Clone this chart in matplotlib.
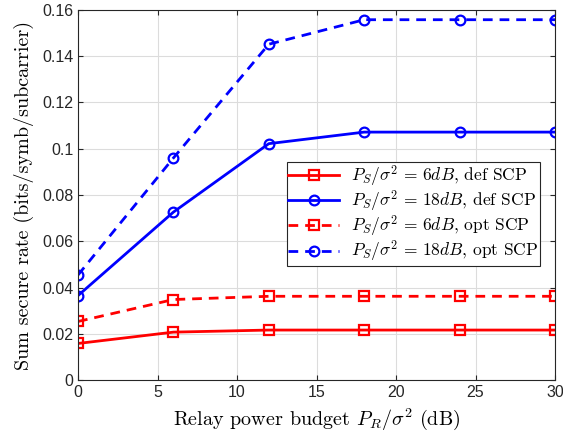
import matplotlib
matplotlib.use("Agg")
import matplotlib.pyplot as plt
import numpy as np

plt.rcParams["mathtext.fontset"] = "cm"

x = [0, 6, 12, 18, 24, 30]
def_6db = [0.0158, 0.0207, 0.0216, 0.0216, 0.0216, 0.0216]
def_18db = [0.0365, 0.0726, 0.1022, 0.1072, 0.1072, 0.1072]
opt_6db = [0.0253, 0.0348, 0.0362, 0.0362, 0.0362, 0.0362]
opt_18db = [0.0454, 0.0960, 0.1452, 0.1558, 0.1558, 0.1558]

fig = plt.figure(figsize=(5.63, 4.37), dpi=100)
ax = fig.add_axes([78 / 563, 57 / 437, 477 / 563, 370 / 437])

mk = dict(markersize=7, markerfacecolor="none", markeredgewidth=1.6, linewidth=2)
ax.plot(x, def_6db, "r-s", label=r"$P_S/\sigma^2\,=\,6dB$, def SCP", **mk)
ax.plot(x, def_18db, "b-o", label=r"$P_S/\sigma^2\,=\,18dB$, def SCP", **mk)
ax.plot(x, opt_6db, "r--s", label=r"$P_S/\sigma^2\,=\,6dB$, opt SCP", dashes=(3.5, 2.5), **mk)
ax.plot(x, opt_18db, "b--o", label=r"$P_S/\sigma^2\,=\,18dB$, opt SCP", dashes=(3.5, 2.5), **mk)

ax.set_xlim(0, 30)
ax.set_ylim(0, 0.16)
ax.set_xticks([0, 5, 10, 15, 20, 25, 30])
ax.set_yticks(np.arange(0, 0.161, 0.02))
ax.set_yticklabels(["0", "0.02", "0.04", "0.06", "0.08", "0.1", "0.12", "0.14", "0.16"])
ax.grid(True, color="#dcdcdc", linewidth=0.8)
ax.set_axisbelow(True)
ax.tick_params(direction="in", top=True, right=True, labelsize=11.5, colors="#262626")
for lab in ax.get_xticklabels() + ax.get_yticklabels():
    lab.set_fontfamily("Liberation Sans")
for s in ax.spines.values():
    s.set_color("#262626")
    s.set_linewidth(0.8)

ax.set_xlabel(r"Relay power budget $P_R/\sigma^2$ (dB)", fontsize=14.5, family="cmr10", labelpad=5)
ax.set_ylabel("Sum secure rate (bits/symb/subcarrier)", fontsize=14.5, family="cmr10", labelpad=6)

leg = ax.legend(loc="upper right", bbox_to_anchor=(0.9686, 0.59),
                prop={"family": "cmr10", "size": 12.5},
                fancybox=False, framealpha=1, edgecolor="#262626",
                handlelength=2.9, borderpad=0.1, labelspacing=0.0, handletextpad=0.7,
                borderaxespad=0)
leg.get_frame().set_linewidth(0.8)

fig.savefig("out.png", dpi=100)
